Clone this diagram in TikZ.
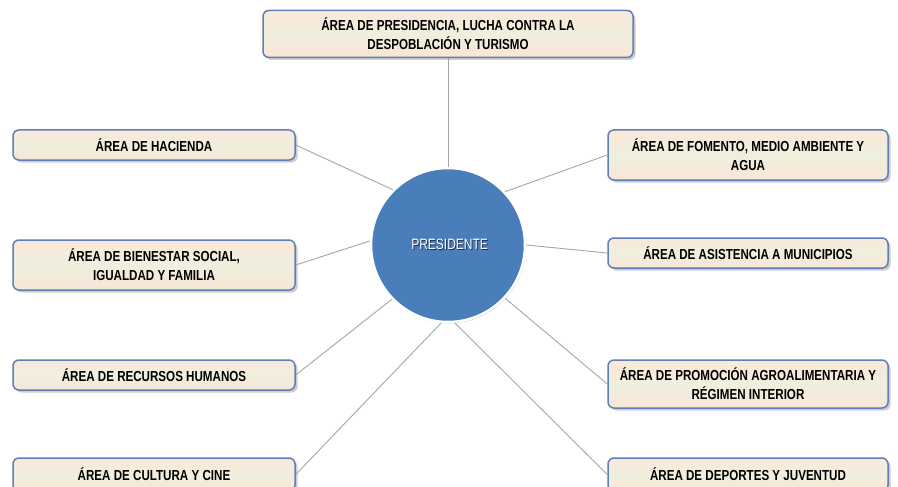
\documentclass[tikz,border=0pt]{standalone}
\usepackage{fontspec}
\setmainfont{Liberation Sans}[FakeStretch=0.80]
\usetikzlibrary{shadows}
\definecolor{boxborder}{HTML}{5F7FBA}
\definecolor{boxtop}{HTML}{FBE8D8}
\definecolor{boxmid}{HTML}{EFEFDE}
\definecolor{boxbot}{HTML}{F9E6D6}
\definecolor{presblue}{HTML}{4A7EBB}
\definecolor{linkgray}{HTML}{A6A6A6}
\begin{document}
\begin{tikzpicture}[x=1pt,y=-1pt,
  areabox/.style={draw=boxborder, line width=1.5pt, rounded corners=6pt,
    top color=boxtop, bottom color=boxbot, middle color=boxmid,
    align=center, inner sep=0pt,
    font=\fontsize{14.5}{19}\selectfont\bfseries,
    drop shadow={shadow xshift=2.5pt, shadow yshift=-2.5pt, opacity=0.4, fill=gray}},
  leftbox/.style={areabox, minimum width=282pt},
  rightbox/.style={areabox, minimum width=280pt},
  link/.style={draw=linkgray, line width=0.9pt}
]
\useasboundingbox (0,0) rectangle (898,487);
\clip (0,0) rectangle (898,487);
\fill[white] (0,0) rectangle (898,487);

\node[areabox, minimum width=370pt, minimum height=47pt] (top) at (448,34)
  {ÁREA DE PRESIDENCIA, LUCHA CONTRA LA\\DESPOBLACIÓN Y TURISMO};
\node[leftbox, minimum height=30pt] (hac) at (154,145) {ÁREA DE HACIENDA};
\node[leftbox, minimum height=50pt] (bie) at (154,265) {ÁREA DE BIENESTAR SOCIAL,\\IGUALDAD Y FAMILIA};
\node[leftbox, minimum height=30pt] (rec) at (154,375) {ÁREA DE RECURSOS HUMANOS};
\node[leftbox, minimum height=33pt] (cul) at (154,474.5) {ÁREA DE CULTURA Y CINE};
\node[rightbox, minimum height=50pt] (fom) at (748,155) {ÁREA DE FOMENTO, MEDIO AMBIENTE Y\\AGUA};
\node[rightbox, minimum height=30pt] (asi) at (748,253) {ÁREA DE ASISTENCIA A MUNICIPIOS};
\node[rightbox, minimum height=48pt] (pro) at (748,384) {ÁREA DE PROMOCIÓN AGROALIMENTARIA Y\\RÉGIMEN INTERIOR};
\node[rightbox, minimum height=33pt] (dep) at (748,474.5) {ÁREA DE DEPORTES Y JUVENTUD};

\node[circle, minimum size=154pt, inner sep=0pt, fill=presblue, draw=white, line width=2.5pt,
  drop shadow={shadow xshift=1pt, shadow yshift=-1.5pt, opacity=0.3, fill=gray}] (pres) at (448,245) {};
\node[text=black!60!presblue, font=\fontsize{15}{16}\selectfont, inner sep=0pt] (presshadow) at (450.6,245.6) {PRESIDENTE};
\node[text=white, font=\fontsize{15}{16}\selectfont, inner sep=0pt] (prestext) at (449.6,244.6) {PRESIDENTE};

\draw[link] (pres.90) -- (top.south);
\draw[link] (pres.135) -- (hac.east);
\draw[link] (pres.177) -- (bie.east);
\draw[link] (pres.224) -- (rec.east);
\draw[link] (pres.265) -- (cul.east);
\draw[link] (pres.43) -- (fom.west);
\draw[link] (pres.0) -- (asi.west);
\draw[link] (pres.317) -- (pro.west);
\draw[link] (pres.275) -- (dep.west);
\end{tikzpicture}
\end{document}
